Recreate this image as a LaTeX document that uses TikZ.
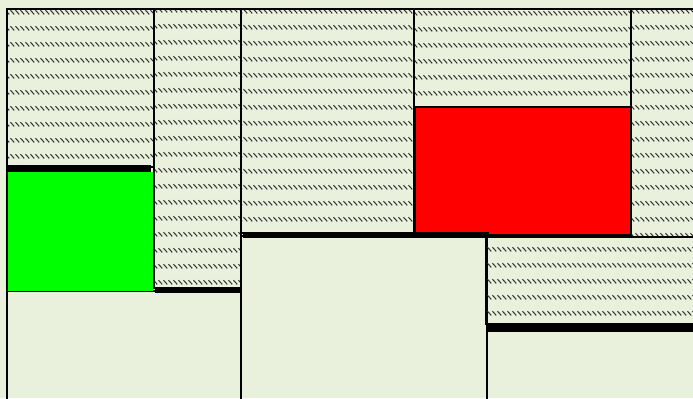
\documentclass[tikz,border=0pt]{standalone}
\usepackage{tikz}
\usetikzlibrary{patterns.meta}
\definecolor{paper}{RGB}{233,241,221}
\definecolor{packgreen}{RGB}{0,255,0}
\definecolor{packred}{RGB}{255,0,0}
\tikzdeclarepattern{name=slashrows, type=uncolored,
  bottom left={(0pt,0pt)}, top right={(2.65pt,7.85pt)},
  tile size={(2.65pt,7.85pt)},
  code={\draw[line width=0.55pt] (0.25pt,4.5pt) -- (2.4pt,2.35pt);}}

\begin{document}
\begin{tikzpicture}[x=0.5pt, y=-0.5pt,
  box/.style={draw=black, line width=0.7pt, pattern=slashrows,
    pattern color=black!80},
  bar/.style={fill=black},
  plain/.style={draw=black, line width=0.7pt}]
  \fill[paper] (0,0) rectangle (693,398);
  \useasboundingbox (0,0) rectangle (693,398);
  \begin{scope}
    \clip (0,0) rectangle (693,398);
    % lower free boxes
    \draw[plain] (7,291) rectangle (241,410);
    \draw[plain] (241,236) rectangle (487,410);
    \draw[plain] (487,331) rectangle (700,410);
    % hatched boxes
    \draw[box] (7,9) rectangle (154,167);
    \draw[box] (154,9) rectangle (241,288);
    \draw[box] (241,9) rectangle (414,233);
    \draw[box] (414,9) rectangle (631,107);
    \draw[box] (631,9) rectangle (700,237);
    \draw[box] (486,237) rectangle (700,324);
    % placed items
    \fill[packgreen] (8,172) rectangle (153,291);
    \draw[plain, fill=packred] (415,107) rectangle (631,235);
    % thick edges
    \fill[bar] (7,165) rectangle (151,172);
    \fill[bar] (155,287) rectangle (241,293);
    \fill[bar] (243,232) rectangle (489,238);
    \fill[bar] (487,323) rectangle (700,331);
    % frame
    \draw[plain] (7,400) -- (7,9) -- (700,9);
  \end{scope}
\end{tikzpicture}
\end{document}
